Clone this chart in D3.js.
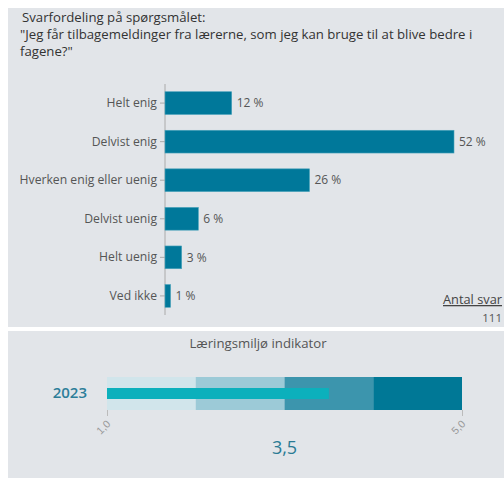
<!DOCTYPE html>
<html>
<head>
<meta charset="utf-8">
<script src="https://cdn.jsdelivr.net/npm/d3@7"></script>
<style>
  body { margin: 0; background: #fff; }
  svg { display: block; font-family: "Open Sans", Lato, sans-serif; }
</style>
</head>
<body>
<svg width="504" height="478"></svg>
<script>
// svarfordeling
categories = ["Helt enig", "Delvist enig", "Hverken enig eller uenig", "Delvist uenig", "Helt uenig", "Ved ikke"];
values = [12, 52, 26, 6, 3, 1];
titleLines = ["Svarfordeling på spørgsmålet:", "\"Jeg får tilbagemeldinger fra lærerne, som jeg kan bruge til at blive bedre i", "fagene?\""];
antalSvar = 111;

// indikator
indicatorYear = "2023";
indicatorValue = 3.5;
bandEdges = [1, 2, 3, 4, 5];
bandColors = ["#d1e5eb", "#9ccad7", "#3c95ad", "#007896"];
indicatorTicks = [1, 5];

const bg = "#e2e5e9";
const barColor = "#00789a";
const svg = d3.select("svg");

// panels
svg.append("rect").attr("x", 8).attr("y", 8).attr("width", 496).attr("height", 319).attr("fill", bg);
svg.append("rect").attr("x", 8).attr("y", 331).attr("width", 496).attr("height", 147).attr("fill", bg);

svg.append("g").selectAll("text")
  .data(titleLines)
  .join("text")
    .attr("x", (d, i) => i == 0 ? 22 : 20)
    .attr("y", (d, i) => 22 + i * 17)
    .attr("font-size", 13.2)
    .attr("fill", "#333")
    .text(d => d);

// bar chart
const x = d3.scaleLinear().domain([0, 52]).range([165, 454]);
const y = d3.scaleBand().domain(categories).range([84, 315]).paddingInner(0.41).paddingOuter(0.2);

const yAxis = svg.append("g")
    .attr("transform", "translate(165,0)")
    .call(d3.axisLeft(y).tickSize(5).tickPadding(3));
yAxis.select(".domain").attr("stroke", "#aaa").attr("d", "M0,84V315");
yAxis.selectAll(".tick line").attr("stroke", "#aaa");
yAxis.selectAll(".tick text").attr("font-size", 12.2).attr("fill", "#555").attr("font-family", "'Open Sans', sans-serif");

svg.append("g").selectAll("rect")
  .data(values)
  .join("rect")
    .attr("x", x(0))
    .attr("y", (d, i) => y(categories[i]))
    .attr("width", d => x(d) - x(0))
    .attr("height", y.bandwidth())
    .attr("fill", barColor)
    .attr("stroke", "#4aa3bb")
    .attr("stroke-width", 0.6);

svg.append("g").selectAll("text")
  .data(values)
  .join("text")
    .attr("x", d => x(d) + 5)
    .attr("y", (d, i) => y(categories[i]) + y.bandwidth() / 2)
    .attr("dy", "0.35em")
    .attr("font-size", 12)
    .attr("fill", "#555")
    .text(d => d + " %");

svg.append("text")
    .attr("x", 502).attr("y", 304)
    .attr("text-anchor", "end")
    .attr("font-size", 12.8)
    .attr("fill", "#444")
    .attr("text-decoration", "underline")
    .text("Antal svar");
svg.append("text")
    .attr("x", 502).attr("y", 322)
    .attr("text-anchor", "end")
    .attr("font-size", 11.5)
    .attr("fill", "#555")
    .text(antalSvar);

// bullet chart
svg.append("text")
    .attr("x", 258).attr("y", 348)
    .attr("text-anchor", "middle")
    .attr("font-size", 13.2)
    .attr("fill", "#555")
    .text("Læringsmiljø indikator");

const xi = d3.scaleLinear().domain([1, 5]).range([107, 462]);

svg.append("g").selectAll("rect")
  .data(bandColors)
  .join("rect")
    .attr("x", (d, i) => xi(bandEdges[i]))
    .attr("y", 377)
    .attr("width", (d, i) => xi(bandEdges[i + 1]) - xi(bandEdges[i]))
    .attr("height", 33)
    .attr("fill", d => d);

svg.append("rect")
    .attr("x", xi(1)).attr("y", 388)
    .attr("width", xi(indicatorValue) - xi(1))
    .attr("height", 11)
    .attr("fill", "#0cb0bc");

svg.append("text")
    .attr("x", 87).attr("y", 393)
    .attr("dy", "0.35em")
    .attr("text-anchor", "end")
    .attr("font-size", 15)
    .attr("font-weight", 600)
    .attr("fill", "#2d7e99")
    .text(indicatorYear);

const xAxis = svg.append("g")
    .attr("transform", "translate(0,410)")
    .call(d3.axisBottom(xi).tickValues(indicatorTicks).tickSize(6).tickFormat(d => d3.format(".1f")(d).replace(".", ",")));
xAxis.select(".domain").remove();
xAxis.selectAll(".tick line").attr("stroke", "#bbb");
xAxis.selectAll(".tick text")
    .attr("font-size", 10.5)
    .attr("fill", "#999")
    .attr("text-anchor", "end")
    .attr("x", 0).attr("y", 0).attr("dy", "0.35em")
    .attr("transform", "translate(1,12) rotate(-45)");

svg.append("text")
    .attr("x", xi(3)).attr("y", 448)
    .attr("dy", "0.35em")
    .attr("text-anchor", "middle")
    .attr("font-size", 18)
    .attr("fill", "#2a7b94")
    .text(d3.format(".1f")(indicatorValue).replace(".", ","));
</script>
</body>
</html>
